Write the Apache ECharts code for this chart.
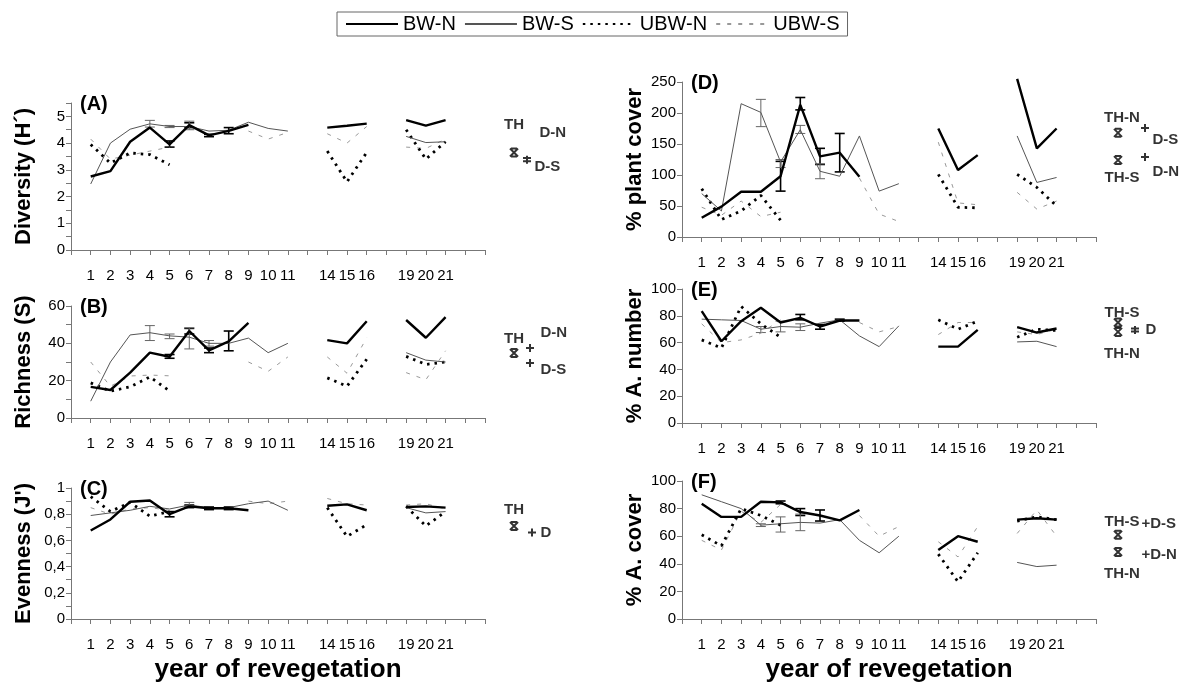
<!DOCTYPE html>
<html>
<head>
<meta charset="utf-8">
<script src="https://cdn.jsdelivr.net/npm/echarts@6/dist/echarts.min.js"></script>
<style>
  html, body { margin: 0; background: #fff; }
  #main { width: 1198px; height: 684px; }
</style>
</head>
<body>
<div id="main"></div>
<script>
const FONT = "'Liberation Sans Narrow', 'Arial Narrow', 'Liberation Sans', sans-serif";

// x slots: blank slots are the gaps in the sampling years
const tickLabels = ['', '1', '2', '3', '4', '5', '6', '7', '8', '9', '10', '11', '',
  '14', '15', '16', '', '19', '20', '21', '', ''];
const years = tickLabels.filter((t) => t !== '');

// values per year: 1..11, 14, 15, 16, 19, 20, 21
// (A) Diversity
const divBWN = [2.75, 2.95, 4.05, 4.58, 3.95, 4.67, 4.29, 4.46, 4.68, null, null, 4.58, 4.65, 4.73, 4.86, 4.65, 4.86];
const divBWS = [2.47, 4.0, 4.52, 4.72, 4.62, 4.62, 4.45, 4.48, 4.78, 4.55, 4.45, null, null, null, 4.25, 4.02, 4.05];
const divUBWN = [3.95, 3.25, 3.63, 3.57, 3.19, null, null, null, null, null, null, 3.7, 2.55, 3.65, 4.5, 3.4, 4.05];
const divUBWS = [4.15, 3.4, 3.55, 3.7, 3.85, null, null, null, 4.45, 4.15, 4.4, 4.35, 4.0, 4.62, 3.85, 3.8, 4.15];
const divErrN = [[5, 3.85, 4.08], [6, 4.58, 4.76], [7, 4.24, 4.33], [8, 4.35, 4.58]];
const divErrS = [[4, 4.6, 4.85], [5, 4.58, 4.66], [6, 4.5, 4.82]];

// (B) Richness
const richBWN = [16.7, 15, 24.3, 35, 32.8, 46.6, 36.2, 41, 51, null, null, 41.7, 40, 51.8, 52.5, 43, 54];
const richBWS = [9, 30, 44.5, 45.7, 44, 43.3, 40, 40, 42.8, 35, 40, null, null, null, 35, 31, 30];
const richUBWN = [18.8, 14.4, 16.7, 22, 14.5, null, null, null, null, null, null, 21.5, 17, 31.5, 33, 28.7, 30];
const richUBWS = [30, 17, 22.5, 23, 22.6, null, null, null, 30, 25, 32.7, 32.7, 24, 43, 24.3, 20.5, 36];
const richErrN = [[5, 32, 34], [6, 45, 48], [7, 35, 37.5], [8, 36, 46.6]];
const richErrS = [[4, 41.5, 49.5], [5, 42.5, 45], [6, 37, 48.3], [7, 38.5, 41.5]];

// (C) Evenness
const evenBWN = [0.675, 0.76, 0.895, 0.905, 0.8, 0.86, 0.845, 0.845, 0.83, null, null, 0.865, 0.875, 0.83, 0.855, 0.86, 0.85];
const evenBWS = [0.79, 0.81, 0.83, 0.86, 0.84, 0.87, 0.85, 0.85, 0.88, 0.9, 0.83, null, null, null, 0.85, 0.81, 0.82];
const evenUBWN = [0.935, 0.82, 0.89, 0.785, 0.82, null, null, null, null, null, null, 0.85, 0.63, 0.72, 0.86, 0.71, 0.82];
const evenUBWS = [0.85, 0.8, 0.84, 0.85, 0.83, null, null, null, 0.9, 0.88, 0.9, 0.92, 0.88, 0.87, 0.87, 0.88, 0.84];
const evenErrN = [[5, 0.78, 0.82], [6, 0.85, 0.87], [7, 0.835, 0.855], [8, 0.835, 0.855]];
const evenErrS = [[6, 0.86, 0.89]];

// (D) % plant cover
const covBWN = [31, 49, 73, 73, 98, 213, 130, 136, 97, null, null, 175, 108, 132, 255, 143, 175];
const covBWS = [70, 42, 215, 201, 121, 173, 106, 98, 163, 74, 86, null, null, null, 163, 88, 96];
const covUBWN = [78, 28, 42, 67, 27, null, null, null, null, null, null, 101, 48, 47, 101, 80, 50];
const covUBWS = [48, 35, 58, 33, 40, null, null, null, 95, 37, 25, 153, 55, 52, 72, 45, 58];
const covErrN = [[5, 74, 122], [6, 205, 225], [7, 117, 143], [8, 105, 167]];
const covErrS = [[4, 178, 222], [5, 112, 125], [6, 167, 180], [7, 94, 118]];

// (E) % A. number
const numBWN = [83.5, 61, 76, 86, 75, 78.5, 72, 76.5, 76.5, null, null, 57, 57, 69.5, 71.5, 67.5, 70.5];
const numBWS = [77.5, 77, 76.5, 70, 72, 71.5, 74.5, 77, 65, 57, 72.5, null, null, null, 60.5, 61, 57];
const numUBWN = [62, 56, 87, 74, 64, null, null, null, null, null, null, 77, 70, 76, 64, 70, 69];
const numUBWS = [74, 60, 62, 67, 77, null, null, null, 75, 68, 72, 66, 75, 75, 68, 66, 70];
const numErrN = [[6, 77, 81], [7, 70, 73.5], [8, 76, 77.5]];
const numErrS = [[4, 67.5, 72], [5, 68, 76], [6, 69, 74]];

// (F) % A. cover
const acBWN = [83.5, 74, 74, 85, 84.5, 77.5, 75, 71.5, 79, null, null, 50, 60, 56, 72, 73, 72];
const acBWS = [90, 85, 80, 68, 69, 70, 69.5, 72, 57, 48, 60, null, null, null, 41, 38, 39];
const acUBWN = [61, 53, 80, 75, 68, null, null, null, null, null, null, 47, 27, 48, 71, 74, 72];
const acUBWS = [57, 50, 78, 70, 83, null, null, null, 75, 60, 67, 56, 45, 67, 62, 79, 60];
const acErrN = [[5, 83.5, 85.5], [6, 75, 80], [7, 71, 79]];
const acErrS = [[4, 67, 69], [5, 63, 74], [6, 64, 76]];

// reference sites (TH, D) values
const refA = { TH: 3.65, DN: 4.4, DS: 3.38 };
const refB = { TH: 34.8, DN: 37.5, DS: 29.5 };
const refC = { TH: 0.71, D: 0.66 };
const refD = { THN: 168, DS: 176, THS: 124, DN: 129 };
const refE = { THS: 75, THN: 68, D: 69.4 };
const refF = { THS: 61, DS: 70.3, THN: 48.5, DN: 46.4 };

function toSlots(vals) {
  return tickLabels.map((t) => (t === '' ? null : vals[years.indexOf(t)]));
}
function slotOf(year) {
  return tickLabels.indexOf(String(year));
}

const SYM_X = 'path://M1,0L9,10M9,0L1,10M2,0L8,0M2,10L8,10';
const SYM_PLUS = 'path://M5,0L5,10M0,5L10,5';
const SYM_DPLUS = 'path://M5,0L5,10M1,3L9,3M1,7L9,7';

const panels = [
  { tag: '(A)', name: 'Diversity (H\u00b4)', max: 5.5, step: 0.5,
    fmt: (v) => (Number.isInteger(v) ? String(v) : ''),
    grid: { left: 71, top: 103, width: 414, height: 147 },
    lines: [divBWN, divBWS, divUBWN, divUBWS], errN: divErrN, errS: divErrS,
    notes: [
      { v: refA.TH, sym: SYM_X, dx: 29, text: 'TH', pos: 'top', off: [0, -10] },
      { v: refA.DN, sym: null, dx: 50, text: 'D-N', pos: 'right', off: [0, 0] },
      { v: refA.DS, sym: SYM_DPLUS, dx: 42, text: 'D-S', pos: 'right', off: [-3, 7] },
    ] },
  { tag: '(B)', name: 'Richness (S)', max: 60, step: 10,
    fmt: (v) => (v % 20 === 0 ? String(v) : ''),
    grid: { left: 71, top: 306, width: 414, height: 112 },
    lines: [richBWN, richBWS, richUBWN, richUBWS], errN: richErrN, errS: richErrS,
    notes: [
      { v: refB.TH, sym: SYM_X, dx: 29, text: 'TH', pos: 'top', off: [0, 4] },
      { v: refB.DN, sym: SYM_PLUS, dx: 45, text: 'D-N', pos: 'right', off: [0, -15] },
      { v: refB.DS, sym: SYM_PLUS, dx: 45, text: 'D-S', pos: 'right', off: [0, 7] },
    ] },
  { tag: '(C)', name: "Evenness (J')", max: 1, step: 0.1,
    fmt: (v) => {
      const r = Math.round(v * 10);
      if (r % 2 !== 0) return '';
      return r === 0 ? '0' : r === 10 ? '1' : ('0,' + r);
    },
    grid: { left: 71, top: 488, width: 414, height: 134 },
    lines: [evenBWN, evenBWS, evenUBWN, evenUBWS], errN: evenErrN, errS: evenErrS,
    xName: 'year of revegetation',
    notes: [
      { v: refC.TH, sym: SYM_X, dx: 29, text: 'TH', pos: 'top', off: [0, 2] },
      { v: refC.D, sym: SYM_PLUS, dx: 47, text: 'D', pos: 'right', off: [-2, 0] },
    ] },
  { tag: '(D)', name: '% plant cover', max: 250, step: 50,
    fmt: (v) => String(v),
    grid: { left: 682, top: 82, width: 414, height: 155 },
    lines: [covBWN, covBWS, covUBWN, covUBWS], errN: covErrN, errS: covErrS,
    notes: [
      { v: refD.THN, sym: SYM_X, dx: 22, text: 'TH-N', pos: 'top', off: [4, 3] },
      { v: refD.DS, sym: SYM_PLUS, dx: 49, text: 'D-S', pos: 'right', off: [-3, 12] },
      { v: refD.THS, sym: SYM_X, dx: 22, text: 'TH-S', pos: 'bottom', off: [4, 0] },
      { v: refD.DN, sym: SYM_PLUS, dx: 49, text: 'D-N', pos: 'right', off: [-3, 15] },
    ] },
  { tag: '(E)', name: '% A. number', max: 100, step: 20,
    fmt: (v) => String(v),
    grid: { left: 682, top: 289, width: 414, height: 134 },
    lines: [numBWN, numBWS, numUBWN, numUBWS], errN: numErrN, errS: numErrS,
    notes: [
      { v: refE.THS, sym: SYM_X, dx: 22, text: 'TH-S', pos: 'top', off: [4, 8] },
      { v: refE.THN, sym: SYM_X, dx: 22, text: 'TH-N', pos: 'bottom', off: [4, 4] },
      { v: refE.D, sym: SYM_DPLUS, dx: 39, text: 'D', pos: 'right', off: [0, 0] },
    ] },
  { tag: '(F)', name: '% A. cover', max: 100, step: 20,
    fmt: (v) => String(v),
    grid: { left: 682, top: 481, width: 414, height: 138 },
    lines: [acBWN, acBWS, acUBWN, acUBWS], errN: acErrN, errS: acErrS,
    xName: 'year of revegetation',
    notes: [
      { v: refF.THS, sym: SYM_X, dx: 22, text: 'TH-S', pos: 'top', off: [4, 5] },
      { v: refF.DS, sym: null, dx: 41, text: '+D-S', pos: 'right', off: [0, 2] },
      { v: refF.THN, sym: SYM_X, dx: 22, text: 'TH-N', pos: 'bottom', off: [4, 4] },
      { v: refF.DN, sym: null, dx: 41, text: '+D-N', pos: 'right', off: [0, 0] },
    ] },
];

const lineNames = ['BW-N', 'BW-S', 'UBW-N', 'UBW-S'];
const lineStyles = [
  { color: '#000', width: 2.4, type: 'solid' },
  { color: '#555', width: 1, type: 'solid' },
  { color: '#000', width: 2.8, type: [2.5, 5] },
  { color: '#999', width: 1, type: [4, 7] },
];

function errorBars(data, color, width, idx) {
  return {
    type: 'custom',
    xAxisIndex: idx,
    yAxisIndex: idx,
    z: 4,
    silent: true,
    data: data.map((d) => [slotOf(d[0]), d[1], d[2]]),
    encode: { x: 0, y: [1, 2] },
    renderItem(params, api) {
      const x = api.value(0);
      const lo = api.coord([x, api.value(1)]);
      const hi = api.coord([x, api.value(2)]);
      const w = 5;
      const style = { stroke: color, lineWidth: width };
      return {
        type: 'group',
        children: [
          { type: 'line', shape: { x1: lo[0], y1: lo[1], x2: hi[0], y2: hi[1] }, style },
          { type: 'line', shape: { x1: lo[0] - w, y1: lo[1], x2: lo[0] + w, y2: lo[1] }, style },
          { type: 'line', shape: { x1: hi[0] - w, y1: hi[1], x2: hi[0] + w, y2: hi[1] }, style },
        ],
      };
    },
  };
}

const grids = [], xAxes = [], yAxes = [], series = [], titles = [];

panels.forEach((p, i) => {
  grids.push(p.grid);
  xAxes.push({
    type: 'category',
    gridIndex: i,
    data: tickLabels,
    boundaryGap: false,
    axisLine: { lineStyle: { color: '#777', width: 1 } },
    axisTick: { interval: 0, length: 5, lineStyle: { color: '#777' } },
    axisLabel: { interval: 0, margin: 18, fontSize: 15, color: '#000', fontFamily: FONT },
    splitLine: { show: false },
    name: p.xName || '',
    nameLocation: 'middle',
    nameGap: 38,
    nameTextStyle: { fontSize: 26, fontWeight: 'bold', color: '#000', fontFamily: FONT },
  });
  yAxes.push({
    type: 'value',
    gridIndex: i,
    min: 0,
    max: p.max,
    interval: p.step,
    axisLine: { show: true, lineStyle: { color: '#777', width: 1 } },
    axisTick: { show: true, length: 5, lineStyle: { color: '#777' } },
    axisLabel: { formatter: p.fmt, fontSize: 15, color: '#000', margin: 6, fontFamily: FONT },
    splitLine: { show: false },
    name: p.name,
    nameLocation: 'middle',
    nameGap: 36,
    nameTextStyle: { fontSize: 22, fontWeight: 'bold', color: '#000', fontFamily: FONT },
  });
  titles.push({
    text: p.tag,
    left: p.grid.left + 4,
    top: p.grid.top - 14,
    textStyle: { fontSize: 20, fontWeight: 'bold', color: '#000', fontFamily: FONT },
  });

  p.lines.forEach((vals, k) => {
    series.push({
      name: lineNames[k],
      type: 'line',
      xAxisIndex: i,
      yAxisIndex: i,
      data: toSlots(vals),
      symbol: 'none',
      connectNulls: false,
      clip: false,
      z: 10 - k,
      lineStyle: lineStyles[k],
      itemStyle: { color: lineStyles[k].color },
    });
  });
  series.push(errorBars(p.errN, '#000', 1.6, i));
  series.push(errorBars(p.errS, '#666', 1, i));

  series.push({
    type: 'scatter',
    xAxisIndex: i,
    yAxisIndex: i,
    silent: true,
    z: 12,
    data: p.notes.map((n) => ({
      value: [21, n.v],
      symbol: n.sym || 'circle',
      symbolSize: n.sym ? 8 : 1,
      symbolOffset: [n.dx, 0],
      itemStyle: n.sym
        ? { color: 'none', borderColor: '#000', borderWidth: 2 }
        : { color: 'rgba(0,0,0,0)' },
      label: {
        show: true,
        formatter: n.text,
        position: n.pos,
        offset: n.off,
        distance: 4,
        fontSize: 15,
        fontWeight: 'bold',
        color: '#000',
        fontFamily: FONT,
      },
    })),
  });
});

const myChart = echarts.init(document.getElementById('main'));
myChart.setOption({
  animation: false,
  backgroundColor: '#fff',
  title: titles,
  legend: {
    data: lineNames,
    top: 12,
    left: 337,
    itemWidth: 52,
    itemHeight: 12,
    itemGap: 8,
    padding: [2, 8, 2, 8],
    borderColor: '#666',
    borderWidth: 1,
    itemStyle: { opacity: 0 },
    textStyle: { fontSize: 20, color: '#000', fontFamily: FONT },
  },
  grid: grids,
  xAxis: xAxes,
  yAxis: yAxes,
  series: series,
});
</script>
</body>
</html>
